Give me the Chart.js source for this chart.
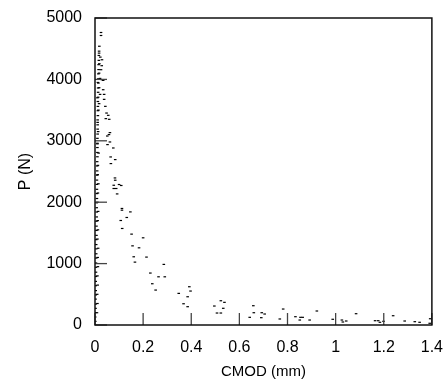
<!DOCTYPE html>
<html>
<head>
<meta charset="utf-8">
<script src="https://cdn.jsdelivr.net/npm/chart.js@4.4.1/dist/chart.umd.min.js"></script>
<style>
  html, body { margin: 0; padding: 0; background: #fff; }
  #wrap { width: 448px; height: 383px; }
</style>
</head>
<body>
<div id="wrap"><canvas id="chart" width="448" height="383"></canvas></div>
<script>
// Loading branch before the peak (dense column along the P axis)
const preCmod = [0.000, 0.001, 0.001, 0.001, 0.002, 0.002, 0.002, 0.003, 0.003, 0.003,
  0.003, 0.004, 0.004, 0.004, 0.004, 0.005, 0.005, 0.005, 0.005, 0.005,
  0.006, 0.006, 0.006, 0.006, 0.007, 0.007, 0.007, 0.007, 0.008, 0.008,
  0.008, 0.008, 0.008, 0.009, 0.009, 0.009, 0.009, 0.010, 0.010, 0.010,
  0.010, 0.010, 0.011, 0.011, 0.011, 0.011, 0.012, 0.012, 0.012, 0.012,
  0.013, 0.013, 0.013, 0.014, 0.014, 0.014, 0.015, 0.015, 0.016, 0.016,
  0.017, 0.018];
const preLoad = [0, 60, 130, 200, 270, 340, 420, 490, 560, 640,
  710, 790, 860, 940, 1010, 1090, 1160, 1240, 1310, 1390,
  1460, 1540, 1610, 1690, 1760, 1840, 1910, 1990, 2060, 2140,
  2210, 2290, 2360, 2440, 2510, 2590, 2660, 2740, 2810, 2890,
  2960, 3040, 3110, 3190, 3260, 3340, 3410, 3490, 3560, 3640,
  3710, 3790, 3860, 3940, 4010, 4090, 4160, 4240, 4310, 4390,
  4460, 4540];

// Softening branch after the peak
const postCmod = [0.025, 0.025, 0.017, 0.022, 0.029, 0.018, 0.028, 0.025, 0.017, 0.021,
  0.029, 0.034, 0.017, 0.034, 0.021, 0.038, 0.038, 0.017, 0.043, 0.048,
  0.055, 0.045, 0.059, 0.062, 0.058, 0.051, 0.062, 0.052, 0.076, 0.065,
  0.084, 0.066, 0.083, 0.084, 0.078, 0.100, 0.109, 0.078, 0.088, 0.092,
  0.112, 0.112, 0.147, 0.132, 0.107, 0.113, 0.152, 0.200, 0.156, 0.183,
  0.161, 0.214, 0.166, 0.230, 0.286, 0.264, 0.290, 0.238, 0.252, 0.348,
  0.392, 0.397, 0.385, 0.368, 0.385, 0.496, 0.523, 0.538, 0.533, 0.507,
  0.523, 0.658, 0.660, 0.643, 0.693, 0.705, 0.691, 0.768, 0.782, 0.833,
  0.854, 0.863, 0.851, 0.892, 0.922, 0.988, 1.026, 1.044, 1.030, 1.085,
  1.164, 1.177, 1.184, 1.199, 1.239, 1.287, 1.329, 1.349, 1.393, 1.391,
  0.012, 0.010, 0.014, 0.011, 0.013, 0.010, 0.015, 0.012, 0.011, 0.014,
  0.012, 0.010, 0.013, 0.011, 0.012, 0.010, 0.013, 0.011, 0.012, 0.010,
  0.011, 0.009, 0.010, 0.008];
const postLoad = [4764, 4715, 4428, 4363, 4320, 4255, 4223, 4158, 4102, 4016,
  3995, 3984, 3865, 3832, 3756, 3756, 3675, 3605, 3561, 3452,
  3415, 3361, 3350, 3133, 3101, 3078, 2981, 2938, 2883, 2737,
  2694, 2629, 2395, 2358, 2276, 2288, 2272, 2223, 2223, 2135,
  1898, 1870, 1842, 1751, 1702, 1572, 1480, 1420, 1289, 1257,
  1111, 1106, 1024, 846, 987, 785, 785, 672, 569, 515,
  623, 553, 460, 346, 298, 309, 395, 369, 272, 195,
  195, 314, 200, 125, 200, 179, 119, 98, 260, 135,
  125, 125, 81, 81, 228, 93, 81, 65, 49, 184,
  70, 70, 44, 60, 151, 65, 54, 44, 102, 28,
  3950, 3700, 3500, 3300, 3150, 2950, 2800, 2600, 2450, 2300,
  2150, 2000, 1850, 1700, 1550, 1400, 1250, 1100, 950, 800,
  650, 500, 350, 200];

const xTicks = [0, 0.2, 0.4, 0.6, 0.8, 1, 1.2, 1.4];
const yTicks = [0, 1000, 2000, 3000, 4000, 5000];

function toPoints(xs, ys) {
  return xs.map((x, i) => ({ x: x, y: ys[i] }));
}

// Frame round the plot area and short inward tick marks
const framePlugin = {
  id: 'frame',
  afterDatasetsDraw(chart) {
    const { ctx, chartArea } = chart;
    const { left, right, top, bottom } = chartArea;
    ctx.save();
    ctx.strokeStyle = '#444';
    ctx.lineWidth = 1.3;
    chart.scales.x.ticks.forEach((t) => {
      const px = chart.scales.x.getPixelForValue(t.value);
      ctx.beginPath();
      ctx.moveTo(px, bottom);
      ctx.lineTo(px, bottom - 12);
      ctx.stroke();
    });
    chart.scales.y.ticks.forEach((t) => {
      const py = chart.scales.y.getPixelForValue(t.value);
      ctx.beginPath();
      ctx.moveTo(left, py);
      ctx.lineTo(left + 12, py);
      ctx.stroke();
    });
    ctx.strokeStyle = '#111';
    ctx.lineWidth = 1.5;
    ctx.strokeRect(left, top, right - left, bottom - top);
    ctx.restore();
  },
};

Chart.defaults.font.family = '"Liberation Sans", Arial, sans-serif';
Chart.defaults.color = '#000';

const pointStyle = {
  showLine: false,
  pointStyle: 'line',
  pointRadius: 1.3,
  pointBorderWidth: 1.2,
  borderColor: '#000',
  backgroundColor: '#000',
};

new Chart(document.getElementById('chart'), {
  type: 'scatter',
  data: {
    datasets: [
      Object.assign({ label: 'pre-peak', data: toPoints(preCmod, preLoad) }, pointStyle),
      Object.assign({ label: 'post-peak', data: toPoints(postCmod, postLoad) }, pointStyle),
    ],
  },
  options: {
    responsive: false,
    animation: false,
    layout: { padding: { top: 18, right: 14, left: 0, bottom: 0 } },
    plugins: {
      legend: { display: false },
      tooltip: { enabled: false },
    },
    scales: {
      x: {
        type: 'linear',
        min: 0,
        max: 1.4,
        afterFit: (scale) => { scale.height = 58; },
        afterBuildTicks: (scale) => { scale.ticks = xTicks.map((v) => ({ value: v })); },
        grid: { display: false },
        border: { display: false },
        ticks: {
          padding: 5,
          maxRotation: 0,
          font: { size: 16 },
          callback: (v) => String(Number(v.toFixed(1))),
        },
        title: {
          display: true,
          text: 'CMOD (mm)',
          font: { size: 15 },
          padding: { top: 0, bottom: 2 },
        },
      },
      y: {
        type: 'linear',
        min: 0,
        max: 5000,
        afterFit: (scale) => { scale.width = 95; },
        afterBuildTicks: (scale) => { scale.ticks = yTicks.map((v) => ({ value: v })); },
        grid: { display: false },
        border: { display: false },
        ticks: {
          padding: 5,
          font: { size: 16 },
          callback: (v) => String(v),
        },
        title: {
          display: true,
          text: 'P (N)',
          font: { size: 16 },
          padding: { top: 16, bottom: 0 },
        },
      },
    },
  },
  plugins: [framePlugin],
});
</script>
</body>
</html>
